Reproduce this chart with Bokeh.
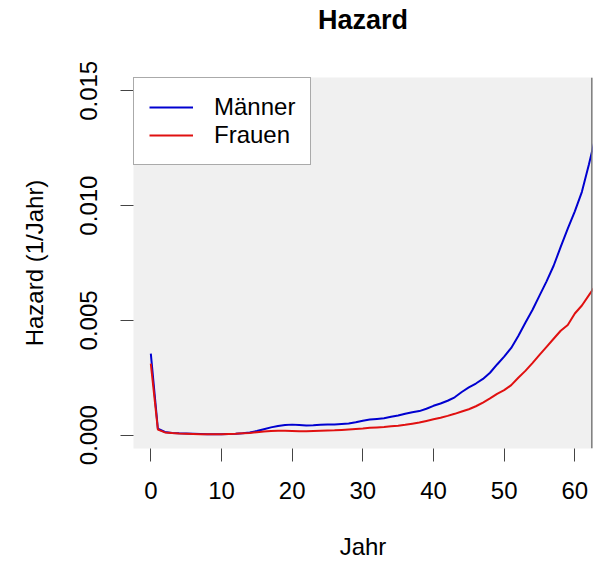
import numpy as np
from bokeh.plotting import figure
from bokeh.models import Range1d, FixedTicker, Legend, LegendItem, Span, Title
from bokeh.embed import file_html
from bokeh.resources import INLINE

# ---- data ----
jahr = list(range(0, 64))
maenner = [0.00355, 0.00028, 0.00014, 0.00010, 0.00008, 0.00007, 0.00006, 0.00005,
           0.00004, 0.00004, 0.00004, 0.00005, 0.00006, 0.00008, 0.00012, 0.00018,
           0.00026, 0.00034, 0.00040, 0.00044, 0.00046, 0.00044, 0.00042, 0.00043,
           0.00045, 0.00046, 0.00047, 0.00049, 0.00051, 0.00056, 0.00063, 0.00068,
           0.00071, 0.00074, 0.00080, 0.00086, 0.00093, 0.00100, 0.00105, 0.00115,
           0.00128, 0.00138, 0.00150, 0.00165, 0.00188, 0.00208, 0.00225, 0.00245,
           0.00272, 0.00308, 0.00342, 0.00380, 0.00432, 0.00490, 0.00545, 0.00608,
           0.00670, 0.00738, 0.00820, 0.00900, 0.00975, 0.01060, 0.01180, 0.01310]
frauen = [0.00312, 0.00024, 0.00012, 0.00009, 0.00007, 0.00006, 0.00005, 0.00004,
          0.00004, 0.00004, 0.00004, 0.00005, 0.00006, 0.00008, 0.00010, 0.00013,
          0.00016, 0.00018, 0.00019, 0.00019, 0.00018, 0.00017, 0.00017, 0.00018,
          0.00019, 0.00020, 0.00021, 0.00023, 0.00025, 0.00027, 0.00029, 0.00032,
          0.00034, 0.00036, 0.00039, 0.00041, 0.00045, 0.00050, 0.00055, 0.00062,
          0.00069, 0.00076, 0.00084, 0.00093, 0.00103, 0.00113, 0.00126, 0.00142,
          0.00160, 0.00180, 0.00196, 0.00218, 0.00250, 0.00280, 0.00314, 0.00350,
          0.00385, 0.00420, 0.00455, 0.00480, 0.00530, 0.00565, 0.00610, 0.00655]
x_ticks = [0, 10, 20, 30, 40, 50, 60]
y_ticks = [0.000, 0.005, 0.010, 0.015]
y_tick_labels = {0.0: "0.000", 0.005: "0.005", 0.01: "0.010", 0.015: "0.015"}
series_names = ["Männer", "Frauen"]

FONT = "Liberation Sans"
x_start, x_end = -2.45, 62.5
y_start, y_end = -0.00058, 0.01558

p = figure(width=596, height=562, output_backend="svg", toolbar_location=None,
           x_range=Range1d(x_start, x_end), y_range=Range1d(y_start, y_end),
           min_border_left=133, min_border_right=4, min_border_top=77,
           min_border_bottom=114)

p.background_fill_color = "#f0f0f0"
p.border_fill_color = "white"
p.outline_line_color = None
p.xgrid.visible = False
p.ygrid.visible = False

p.title.text = "Hazard"
p.title.align = "center"
p.title.text_font = FONT
p.title.text_font_size = "27px"
p.title.text_font_style = "bold"
p.title.text_color = "black"
p.title.standoff = 2

# spacer between the title and the plot panel
p.add_layout(Title(text=" ", text_font_size="1px", standoff=39), "above")

for ax in (p.xaxis[0], p.yaxis[0]):
    ax.axis_line_color = None
    ax.major_tick_in = 0
    ax.major_tick_out = 13
    ax.major_tick_line_color = "#444444"
    ax.major_tick_line_width = 1
    ax.minor_tick_line_color = None
    ax.major_label_text_font = FONT
    ax.major_label_text_font_size = "24px"
    ax.major_label_text_color = "black"
    ax.axis_label_text_font = FONT
    ax.axis_label_text_font_size = "24px"
    ax.axis_label_text_font_style = "normal"
    ax.axis_label_text_color = "black"

p.xaxis.ticker = FixedTicker(ticks=x_ticks)
p.xaxis.major_label_standoff = 20
p.xaxis.axis_label = "Jahr"
p.xaxis.axis_label_standoff = 31

p.yaxis.ticker = FixedTicker(ticks=y_ticks)
p.yaxis.major_label_overrides = y_tick_labels
p.yaxis.major_label_orientation = "vertical"
p.yaxis.major_label_standoff = 23
p.yaxis.axis_label = "Hazard (1/Jahr)"
p.yaxis.axis_label_standoff = 30

r_m = p.line(jahr, maenner, line_color="#0000d0", line_width=2)
r_f = p.line(jahr, frauen, line_color="#e01010", line_width=2)

p.add_layout(Span(location=x_end - 0.05, dimension="height",
                  line_color="#707070", line_width=2))

legend = Legend(items=[LegendItem(label=series_names[0], renderers=[r_m]),
                       LegendItem(label=series_names[1], renderers=[r_f])],
                location="top_left", margin=0, padding=15, spacing=0,
                glyph_width=44, glyph_height=28, label_height=28,
                label_standoff=21, label_text_font=FONT,
                label_text_font_size="24px", label_text_color="black",
                border_line_color="#555555", border_line_width=1.5,
                background_fill_color="white", background_fill_alpha=1.0)
p.add_layout(legend)

open("out.html", "w").write(file_html(p, INLINE))
